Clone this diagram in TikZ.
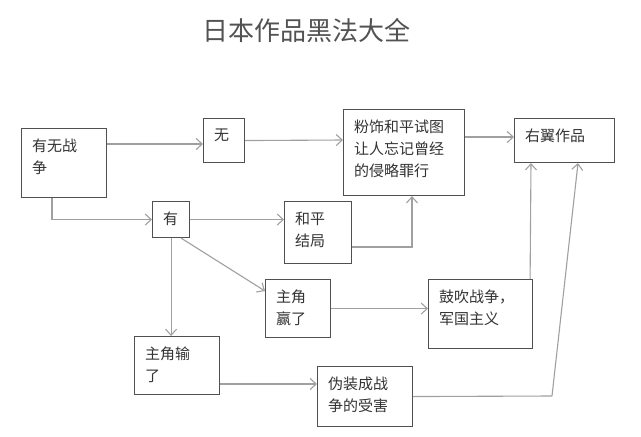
\documentclass[tikz,border=0pt]{standalone}
\usepackage{fontspec}
\newfontfamily\cjk{Noto Sans CJK SC}
\usetikzlibrary{arrows.meta}
\definecolor{boxgray}{HTML}{505050}
\definecolor{linegray}{HTML}{A0A0A0}
\definecolor{textgray}{HTML}{333333}
\newcommand{\celltext}[3]{\parbox[c][\dimexpr#2pt-21pt\relax][t]{\dimexpr#1pt-21pt\relax}{\raggedright #3}}

\begin{document}
\begin{tikzpicture}[x=1pt, y=-1pt]
      \fill[white] (0,0) rectangle (641,437);
      \useasboundingbox (0,0) rectangle (641,437);
      \node (Title) [font=\cjk\fontsize{26}{30}\selectfont, text=textgray!85] at (306,31) {日本作品黑法大全};
      \begin{scope}[every node/.style={draw=boxgray, line width=1.1pt, inner sep=10.5pt, anchor=north west, text=textgray, font=\cjk\fontsize{15}{22}\selectfont}]
        \node (War) at (21,128) {\celltext{85}{69}{有无战\\争}};
        \node (No) at (203,118) {\celltext{41}{44}{无}};
        \node (Yes) at (152,201) {\celltext{37}{36}{有}};
        \node (Peace) at (284,201) {\celltext{67}{62}{和平\\结局}};
        \node (Cover) at (343,109) {\celltext{121}{86}{粉饰和平试图\\让人忘记曾经\\的侵略罪行}};
        \node (Right) at (514,118) {\celltext{100}{44}{右翼作品}};
        \node (Win) at (265,279) {\celltext{65}{58}{主角\\赢了}};
        \node (Hype) at (428,279) {\celltext{104}{69}{鼓吹战争，\\军国主义}};
        \node (Lose) at (134,336) {\celltext{85}{58}{主角输\\了}};
        \node (Victim) at (317,366) {\celltext{95}{60}{伪装成战\\争的受害}};
      \end{scope}
      \coordinate (Bend) at (552,396);
      \begin{scope}
        [every edge/.style={draw=linegray, line width=1.1pt, -{Straight Barb[length=6pt,width=11pt]}},
        hv/.style={to path={-| (\tikztotarget)}},
        vh/.style={to path={|- (\tikztotarget)}}]
        \path ([yshift=-16pt]War.north east) edge ([yshift=-26pt]No.north west);
        \path (No.east) edge ([yshift=-31pt]Cover.north west);
        \path ([xshift=31pt]War.south west) edge[vh] (Yes.west);
        \path (Yes.east) edge (Yes.east -| Peace.west);
        \path ([yshift=-46pt]Peace.north east) edge[hv] ([xshift=69pt]Cover.south west);
        \path ([yshift=-28pt]Cover.north east) edge ([yshift=-19pt]Right.north west);
        \path ([xshift=-9pt]Yes.south east) edge ([yshift=-12pt]Win.north west);
        \path (Yes.south) edge (Yes.south |- Lose.north);
        \path (Win.east) edge (Win.east -| Hype.west);
        \path ([yshift=-48pt]Lose.north east) edge ([yshift=-18pt]Victim.north west);
        \path ([xshift=-3pt]Hype.north east) edge ([xshift=17pt]Right.south west);
        \path (Victim.east) edge[-] (Bend);
        \path (Bend) edge ([xshift=64pt]Right.south west);
      \end{scope}
    \end{tikzpicture}
\end{document}
